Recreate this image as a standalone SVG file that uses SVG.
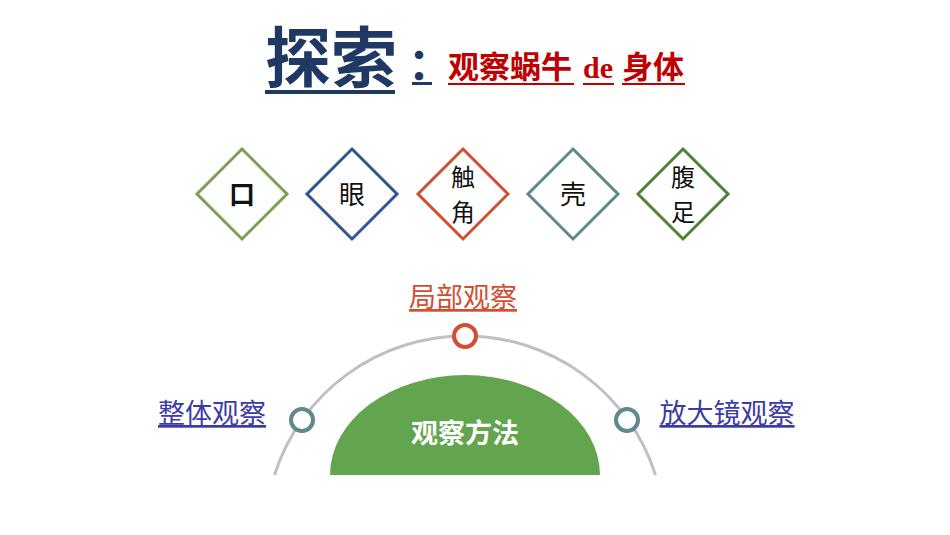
<svg xmlns="http://www.w3.org/2000/svg" width="950" height="535" viewBox="0 0 950 535">
<style>
text{font-family:"Noto Sans CJK SC","Liberation Sans",sans-serif}
.d{fill:#fff;stroke-width:3}
.lb{font-size:26px;text-anchor:middle;fill:#111}
.st{font-size:24px}
.dot{fill:#fff;stroke-width:4}
.op{font-size:27px;text-decoration:underline}
.serif{font-family:"Liberation Serif",serif}
</style>
<rect width="950" height="535" fill="#fff"/>
<g id="title">
<text x="265" y="82" font-size="66" font-weight="bold" fill="#1f3864">探索</text>
<rect x="265" y="90" width="130" height="4" fill="#1f3864"/>
<text x="408" y="80" font-size="44" font-weight="bold" fill="#1f3864">：</text>
<rect x="412" y="82" width="20" height="3" fill="#1f3864"/>
<text x="448" y="78" font-size="31" font-weight="bold" fill="#c00000">观察蜗牛</text>
<rect x="448" y="83" width="126" height="2" fill="#c00000"/>
<text class="serif" x="583" y="78" font-size="30" font-weight="bold" fill="#c00000">de</text>
<rect x="583" y="83" width="31" height="2" fill="#c00000"/>
<text x="622" y="78" font-size="31" font-weight="bold" fill="#c00000">身体</text>
<rect x="622" y="83" width="63" height="2" fill="#c00000"/>
</g>
<g id="n1"><path class="d" stroke="#7aa055" d="M242,149 L287,194 L242,239 L197,194 Z"/><text class="lb" x="242" y="204" font-weight="bold" font-size="30">口</text></g>
<g id="n2"><path class="d" stroke="#2f5597" d="M352,149 L397,194 L352,239 L307,194 Z"/><text class="lb" x="352" y="204">眼</text></g>
<g id="n3"><path class="d" stroke="#d24d31" d="M463,149 L508,194 L463,239 L418,194 Z"/><text class="lb st" x="463" y="186">触</text><text class="lb st" x="463" y="221">角</text></g>
<g id="n4"><path class="d" stroke="#5f8a8b" d="M573,149 L618,194 L573,239 L528,194 Z"/><text class="lb" x="573" y="204">壳</text></g>
<g id="n5"><path class="d" stroke="#548235" d="M683,149 L728,194 L683,239 L638,194 Z"/><text class="lb st" x="683" y="186">腹</text><text class="lb st" x="683" y="221">足</text></g>
<g id="connectors">
<path d="M274.5,475 A200,200 0 0 1 655.5,475" fill="none" stroke="#c0c0c0" stroke-width="3"/>
</g>
<g id="center"><path d="M330,475 A135,100 0 0 1 600,475 Z" fill="#63a44f"/><text x="465" y="443" font-size="27" font-weight="bold" fill="#fff" text-anchor="middle">观察方法</text></g>
<g id="top"><circle class="dot" cx="465" cy="336" r="11" stroke="#d24d31"/><text class="op" x="463" y="307" text-anchor="middle" fill="#d24d31">局部观察</text></g>
<g id="left"><circle class="dot" cx="302" cy="420" r="11" stroke="#5f8a8b"/><text class="op" x="212" y="423" text-anchor="middle" fill="#3b3ba8">整体观察</text></g>
<g id="right"><circle class="dot" cx="627" cy="420" r="11" stroke="#5f8a8b"/><text class="op" x="727" y="423" text-anchor="middle" fill="#3b3ba8">放大镜观察</text></g>
</svg>
